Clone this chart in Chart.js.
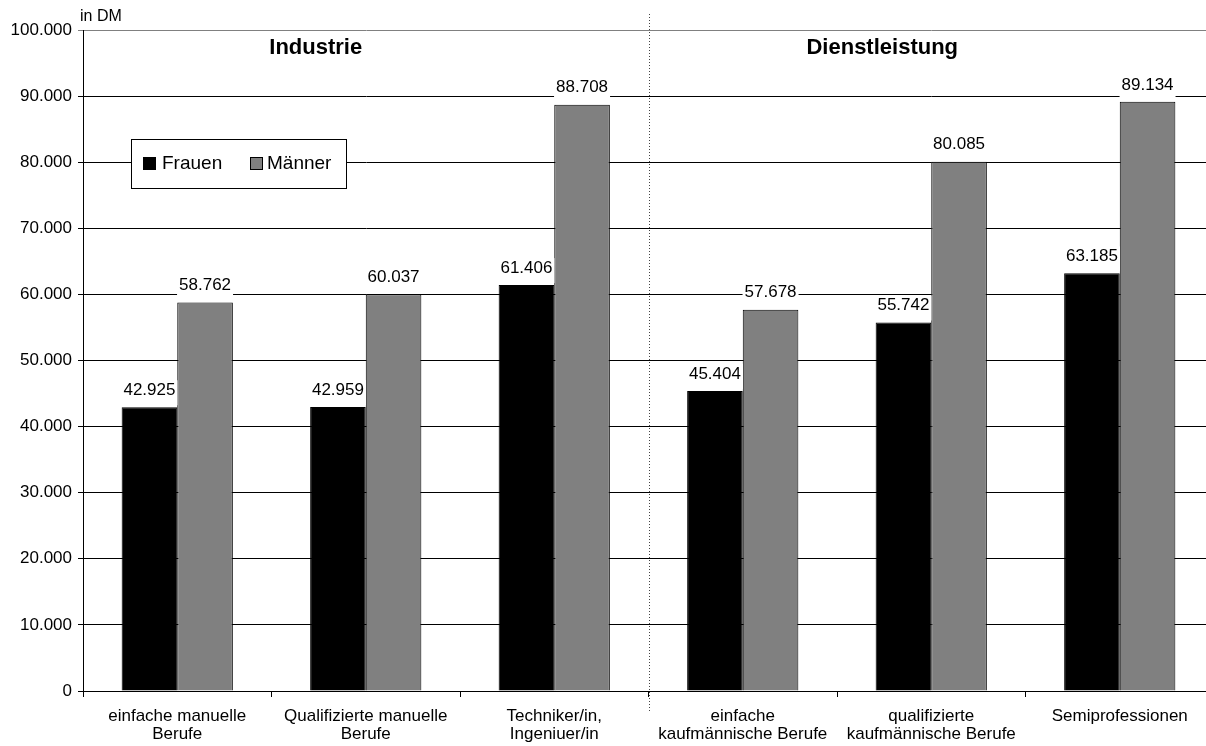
<!DOCTYPE html>
<html>
<head>
<meta charset="utf-8">
<script src="https://cdn.jsdelivr.net/npm/chart.js@4/dist/chart.umd.min.js"></script>
<style>
  html, body { margin: 0; padding: 0; background: #fff; overflow: hidden; }
  canvas { display: block; }
</style>
</head>
<body>
<canvas id="einkommenChart" width="1222" height="746"></canvas>
<script>
// Jahreseinkommen nach Berufsgruppe und Geschlecht (in DM)
var categories = [
    ['einfache manuelle', 'Berufe'],
    ['Qualifizierte manuelle', 'Berufe'],
    ['Techniker/in,', 'Ingeniuer/in'],
    ['einfache', 'kaufmännische Berufe'],
    ['qualifizierte', 'kaufmännische Berufe'],
    ['Semiprofessionen']
];
var frauen = [42925, 42959, 61406, 45404, 55742, 63185];
var maenner = [58762, 60037, 88708, 57678, 80085, 89134];
var sectors = ['Industrie', 'Dienstleistung'];
var yTicks = [0, 10000, 20000, 30000, 40000, 50000, 60000, 70000, 80000, 90000, 100000];

var FONT = "'Liberation Sans', Arial, sans-serif";

function formatDM(v) {
    return String(v).replace(/\B(?=(\d{3})+(?!\d))/g, '.');
}

// Beschriftungen, Trennlinie und Legende
var overlay = {
    id: 'overlay',
    beforeDatasetsDraw: function(chart) {
        var c = chart.ctx;
        var x = chart.scales.x;
        var sep = (x.getPixelForValue(2) + x.getPixelForValue(3)) / 2;
        c.save();
        c.strokeStyle = '#444';
        c.lineWidth = 1;
        c.setLineDash([1, 2]);
        c.beginPath();
        c.moveTo(Math.round(sep) + 0.5, 14);
        c.lineTo(Math.round(sep) + 0.5, 711);
        c.stroke();
        c.restore();
    },
    afterDatasetsDraw: function(chart) {
        var c = chart.ctx;
        var x = chart.scales.x;
        c.save();

        // Werte über den Säulen
        c.font = '17px ' + FONT;
        c.textAlign = 'center';
        c.textBaseline = 'middle';
        chart.data.datasets.forEach(function(ds, di) {
            var meta = chart.getDatasetMeta(di);
            meta.data.forEach(function(bar, i) {
                var txt = formatDM(ds.data[i]);
                var w = c.measureText(txt).width + 4;
                c.fillStyle = '#fff';
                c.fillRect(bar.x - w / 2, bar.y - 27, w, 25);
                c.fillStyle = '#000';
                c.fillText(txt, bar.x, bar.y - 17);
            });
        });

        // Einheit
        c.textAlign = 'left';
        c.font = '16px ' + FONT;
        c.fillText('in DM', 80, 17);

        // Bereichstitel
        c.textAlign = 'center';
        c.font = 'bold 22px ' + FONT;
        c.fillText(sectors[0], x.getPixelForValue(1) - 50, 48);
        c.fillText(sectors[1], x.getPixelForValue(4) - 49, 48);

        // Legende
        c.fillStyle = '#fff';
        c.fillRect(131, 139, 216, 50);
        c.strokeStyle = '#000';
        c.lineWidth = 1;
        c.strokeRect(131.5, 139.5, 215, 49);
        var items = [{ x: 143, tx: 162 }, { x: 250, tx: 267 }];
        c.textAlign = 'left';
        c.font = '19px ' + FONT;
        chart.data.datasets.forEach(function(ds, di) {
            var it = items[di];
            c.fillStyle = ds.backgroundColor;
            c.fillRect(it.x, 157, 13, 13);
            c.strokeStyle = '#000';
            c.strokeRect(it.x + 0.5, 157.5, 12, 12);
            c.fillStyle = '#000';
            c.fillText(ds.label, it.tx, 164);
        });
        c.restore();
    }
};

var ctx = document.getElementById('einkommenChart').getContext('2d');
var chart = new Chart(ctx, {
    type: 'bar',
    data: {
        labels: categories,
        datasets: [{
            label: 'Frauen',
            data: frauen,
            backgroundColor: '#000000',
            borderColor: '#000000',
            borderWidth: 1
        }, {
            label: 'Männer',
            data: maenner,
            backgroundColor: '#808080',
            borderColor: '#000000',
            borderWidth: 1
        }]
    },
    options: {
        responsive: false,
        animation: false,
        layout: { padding: { top: 30, right: 8, left: 0, bottom: 0 } },
        datasets: {
            bar: { categoryPercentage: 0.59, barPercentage: 1.0 }
        },
        plugins: {
            legend: { display: false },
            tooltip: { enabled: false }
        },
        scales: {
            x: {
                offset: true,
                grid: {
                    offset: true,
                    drawOnChartArea: false,
                    color: '#000',
                    tickLength: 6
                },
                border: { color: '#000', width: 1 },
                ticks: {
                    color: '#000',
                    font: { family: FONT, size: 17, lineHeight: 1.06 },
                    maxRotation: 0,
                    autoSkip: false,
                    padding: 10
                },
                afterFit: function(scale) { scale.height = 55; }
            },
            y: {
                min: 0,
                max: 100000,
                afterBuildTicks: function(scale) {
                    scale.ticks = yTicks.map(function(v) { return { value: v }; });
                },
                grid: {
                    color: function(c) { return c.tick && c.tick.value === 100000 ? '#808080' : '#000'; },
                    lineWidth: 1,
                    tickLength: 5
                },
                border: { color: '#000', width: 1 },
                ticks: {
                    color: '#000',
                    font: { family: FONT, size: 17 },
                    padding: 6,
                    callback: function(v) { return formatDM(v); }
                },
                afterFit: function(scale) { scale.width = 83; }
            }
        }
    },
    plugins: [overlay]
});
</script>
</body>
</html>
